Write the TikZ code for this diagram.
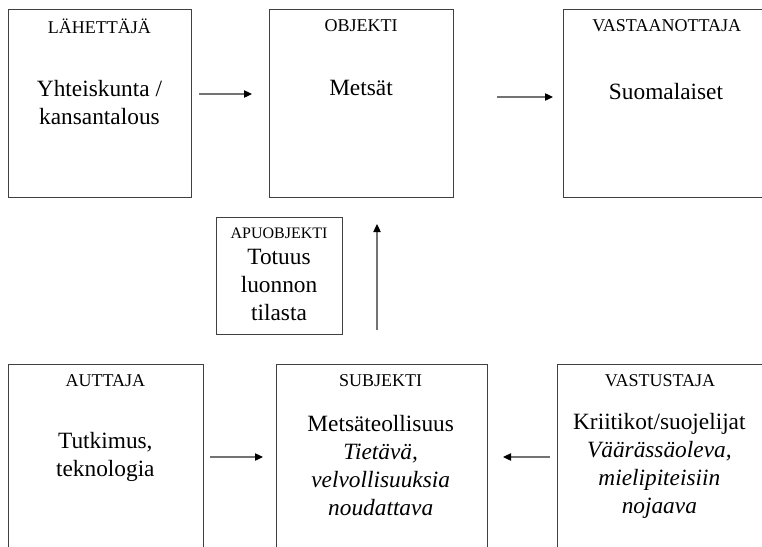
\documentclass[tikz,border=0pt]{standalone}
\usepackage{fontspec}
\setmainfont{Liberation Serif}
\usetikzlibrary{arrows.meta}

\tikzset{
  box/.style={draw=black!75, line width=0.75pt, rectangle, inner sep=0pt, anchor=north west},
  role/.style={inner sep=0pt, font=\fontsize{13.5}{16}\selectfont},
  small role/.style={inner sep=0pt, font=\fontsize{12}{14}\selectfont},
  main/.style={inner sep=0pt, align=center, font=\fontsize{17.5}{21}\selectfont},
  arr/.style={draw=black!55, line width=0.9pt, -{Triangle[length=6pt,width=5.5pt,color=black]}}
}

\begin{document}
\begin{tikzpicture}[x=1pt,y=1pt]
		\useasboundingbox (0,0) rectangle (571.5,-409.5);
		\begin{scope}
		\clip (0,0) rectangle (571.5,-409.5);
		%
		% boxes, top row
		\node[box, minimum width=137.25pt, minimum height=141pt] (lah) at (6,-6.75) {};
		\node[box, minimum width=138pt, minimum height=141pt] (obj) at (201.75,-6.75) {};
		\node[box, minimum width=156pt, minimum height=141pt] (vas) at (422.25,-6.75) {};
		% helper object
		\node[box, minimum width=94.5pt, minimum height=87.75pt] (apu) at (162,-162.75) {};
		% boxes, bottom row
		\node[box, minimum width=146.25pt, minimum height=150pt] (aut) at (6,-273) {};
		\node[box, minimum width=158.25pt, minimum height=150pt] (sub) at (207,-273) {};
		\node[box, minimum width=154.5pt, minimum height=150pt] (vst) at (417.75,-273) {};
		\end{scope}
		%
		\node[role] (lahR) at (74.6,-19.5) {LÄHETTÄJÄ};
		\node[main] (lahT) at (74.6,-77.25) {Yhteiskunta /\\kansantalous};
		\node[role] (objR) at (270.75,-19.5) {OBJEKTI};
		\node[main] (objT) at (270.75,-66) {Metsät};
		\node[role] (vasR) at (500,-19.5) {VASTAANOTTAJA};
		\node[main] (vasT) at (499.5,-69) {Suomalaiset};
		%
		\node[small role] (apuR) at (209.25,-174.75) {APUOBJEKTI};
		\node[main] (apuT) at (209.25,-213.75) {Totuus\\luonnon\\tilasta};
		%
		\node[role] (autR) at (79,-285.75) {AUTTAJA};
		\node[main] (autT) at (79,-342.4) {Tutkimus,\\teknologia};
		\node[role] (subR) at (285.5,-285.75) {SUBJEKTI};
		\node[main] (subT) at (285.5,-349.5) {Metsäteollisuus\\\textit{Tietävä,}\\\textit{velvollisuuksia}\\\textit{noudattava}};
		\node[role] (vstR) at (495,-285.75) {VASTUSTAJA};
		\node[main] (vstT) at (494.5,-349.5) {Kriitikot/suojelijat\\\textit{Väärässäoleva,}\\\textit{mielipiteisiin}\\\textit{nojaava}};
		%
		% free-standing arrows
		\coordinate (a1s) at (149.25,-70.5);  \coordinate (a1e) at (189,-70.5);
		\coordinate (a2s) at (372.75,-72.75); \coordinate (a2e) at (414.75,-72.75);
		\coordinate (a3s) at (282.75,-247.5); \coordinate (a3e) at (282.75,-168);
		\coordinate (a4s) at (157.5,-342.75); \coordinate (a4e) at (197.25,-342.75);
		\coordinate (a5s) at (412.5,-342.75); \coordinate (a5e) at (377.25,-342.75);
		\draw[arr] (a1s) -- (a1e);
		\draw[arr] (a2s) -- (a2e);
		\draw[arr] (a3s) -- (a3e);
		\draw[arr] (a4s) -- (a4e);
		\draw[arr] (a5s) -- (a5e);
\end{tikzpicture}
\end{document}
